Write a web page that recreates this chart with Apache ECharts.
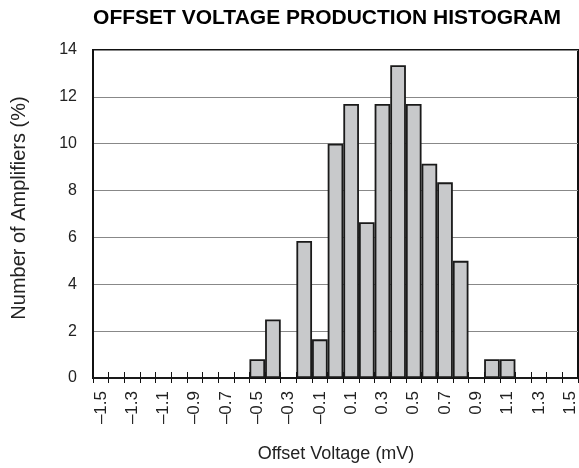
<!DOCTYPE html>
<html><head><meta charset="utf-8">
<script src="https://cdn.jsdelivr.net/npm/echarts@6/dist/echarts.min.js"></script>
<style>html,body{margin:0;padding:0;background:#fff}#c{width:579px;height:468px}</style>
</head><body><div id="c"></div>
<script>
const categories = ["-1.5","-1.4","-1.3","-1.2","-1.1","-1.0","-0.9","-0.8","-0.7","-0.6","-0.5","-0.4","-0.3","-0.2","-0.1","0.0","0.1","0.2","0.3","0.4","0.5","0.6","0.7","0.8","0.9","1.0","1.1","1.2","1.3","1.4","1.5"];
const values = [0,0,0,0,0,0,0,0,0,0,0.8,2.5,0,5.85,1.65,10,11.7,6.65,11.7,13.35,11.7,9.15,8.35,5.0,0,0.8,0.8,0,0,0,0];
const yTicks = [0,2,4,6,8,10,12,14];

const font = 'Liberation Sans, Arial, sans-serif';
const chart = echarts.init(document.getElementById('c'), null, {renderer:'canvas'});
chart.setOption({
  animation:false,
  title:{show:false},
  grid:{left:93, right:1, top:50, bottom:90, outerBoundsMode:'none', containLabel:false,
    show:true, borderColor:'#111', borderWidth:2, backgroundColor:'transparent'},
  graphic:[
    {type:'text', x:327, y:18,
      style:{text:'OFFSET VOLTAGE PRODUCTION HISTOGRAM', fill:'#000', font:'bold 21px '+font, align:'center', verticalAlign:'middle'}},
    {type:'text', x:19, y:208, rotation:Math.PI/2,
      style:{text:'Number of Amplifiers (%)', fill:'#222', font:'20px '+font, align:'center', verticalAlign:'middle'}},
    {type:'text', x:336, y:454,
      style:{text:'Offset Voltage (mV)', fill:'#222', font:'18px '+font, align:'center', verticalAlign:'middle'}}
  ],
  xAxis:[{type:'category', data:categories, position:'bottom', boundaryGap:true,
    axisLine:{lineStyle:{color:'#111', width:2}},
    axisTick:{show:true, interval:0, length:5, lineStyle:{color:'#111', width:1}},
    axisLabel:{interval:1, rotate:90, margin:13, fontFamily:font, fontSize:17, color:'#222',
      formatter:v=>v.replace('-','\u2013')},
    splitLine:{show:false}},
   {type:'category', data:categories, position:'bottom', boundaryGap:true,
    axisLine:{show:false},
    axisTick:{show:true, inside:true, interval:0, length:6, lineStyle:{color:'#111', width:1}},
    axisLabel:{show:false}, splitLine:{show:false}}],
  yAxis:{type:'value', min:yTicks[0], max:yTicks[yTicks.length-1], interval:2,
    axisLine:{show:true, lineStyle:{color:'#111', width:2}},
    axisTick:{show:false},
    axisLabel:{margin:16, fontFamily:font, fontSize:16, color:'#222'},
    splitLine:{lineStyle:{color:'#888', width:1.2}}},
  series:[{type:'bar', data:values, barCategoryGap:'0%', xAxisIndex:0,
    itemStyle:{color:'#c8c9cb', borderColor:'#1a1a1a', borderWidth:1.8}}]
});
</script></body></html>
